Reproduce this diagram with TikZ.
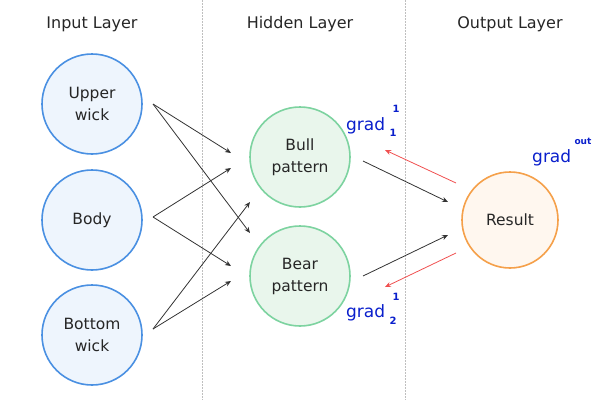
\documentclass[tikz,border=0pt]{standalone}
\usepackage{fontspec}
\setmainfont{DejaVu Sans}
\usetikzlibrary{arrows.meta}
\definecolor{inb}{HTML}{4A90E2}
\definecolor{inf}{HTML}{EEF5FD}
\definecolor{hgb}{HTML}{7DD3A0}
\definecolor{hgf}{HTML}{E9F6EC}
\definecolor{oub}{HTML}{F5A04A}
\definecolor{ouf}{HTML}{FFF7EF}
\definecolor{gradc}{HTML}{0A1FCC}
\definecolor{redc}{HTML}{F05050}
\begin{document}
\begin{tikzpicture}[x=1pt,y=-1pt,
  neuron/.style={circle,minimum size=100pt,inner sep=0pt,line width=1.6pt,align=center,font=\fontsize{15.5}{22}\selectfont,text=black!85},
  innode/.style={neuron,draw=inb,fill=inf},
  hidnode/.style={neuron,draw=hgb,fill=hgf},
  outnode/.style={neuron,draw=oub,fill=ouf,minimum size=96pt},
  layertitle/.style={font=\fontsize{16}{18}\selectfont,text=black!85},
  fwd/.style={draw=black!80,line width=0.8pt,-{Stealth[length=6pt,width=5pt]}},
  bwd/.style={draw=redc,line width=0.8pt,-{Stealth[length=6pt,width=5pt]}},
  divider/.style={draw=black!25,dash pattern=on 1.5pt off 1.5pt,line width=0.7pt},
  gradlbl/.style={text=gradc,font=\fontsize{17}{19}\selectfont,inner sep=0pt},
  idx/.style={text=gradc,font=\bfseries\fontsize{10}{11}\selectfont,inner sep=0pt}]
\useasboundingbox (0,0) rectangle (600,400);
\coordinate (d1t) at (202,0); \coordinate (d1b) at (202,400);
\coordinate (d2t) at (405,0); \coordinate (d2b) at (405,400);
\draw[divider] (d1t) -- (d1b);
\draw[divider] (d2t) -- (d2b);
\node[layertitle] (tin) at (92,24) {Input Layer};
\node[layertitle] (thid) at (300,24) {Hidden Layer};
\node[layertitle] (tout) at (510,24) {Output Layer};
\node[innode] (up) at (92,104) {Upper\\wick};
\node[innode] (body) at (92,220) {Body};
\node[innode] (bot) at (92,335) {Bottom\\wick};
\node[hidnode] (bull) at (300,157) {Bull\\pattern};
\node[hidnode] (bear) at (300,276) {Bear\\pattern};
\node[outnode] (res) at (510,220) {Result};
% forward arrows
\coordinate (s1) at (153,104); \coordinate (s2) at (153,217); \coordinate (s3) at (153,329);
\coordinate (e1) at (231,153); \coordinate (e2) at (250,233);
\coordinate (e3) at (231,168); \coordinate (e4) at (231,266);
\coordinate (e5) at (250,202); \coordinate (e6) at (231,281);
\draw[fwd] (s1) -- (e1);
\draw[fwd] (s1) -- (e2);
\draw[fwd] (s2) -- (e3);
\draw[fwd] (s2) -- (e4);
\draw[fwd] (s3) -- (e5);
\draw[fwd] (s3) -- (e6);
\coordinate (h1) at (363,161); \coordinate (h2) at (363,276);
\coordinate (o1) at (448,202); \coordinate (o2) at (448,235);
\draw[fwd] (h1) -- (o1);
\draw[fwd] (h2) -- (o2);
% backward arrows
\coordinate (r1) at (456,183); \coordinate (r2) at (456,253);
\coordinate (b1) at (385,150); \coordinate (b2) at (385,287);
\draw[bwd] (r1) -- (b1);
\draw[bwd] (r2) -- (b2);
% gradient labels
\node[gradlbl,anchor=base west] (g1) at (346,130) {grad};
\node[idx] (g1sup) at (396,109) {1};
\node[idx] (g1sub) at (393,133) {1};
\node[gradlbl,anchor=base west] (g2) at (346,317) {grad};
\node[idx] (g2sup) at (396,297) {1};
\node[idx] (g2sub) at (393,321) {2};
\node[gradlbl,anchor=base west] (g3) at (532,162) {grad};
\node[idx,font=\bfseries\fontsize{9}{10}\selectfont] (g3sup) at (583,141) {out};
\end{tikzpicture}
\end{document}
